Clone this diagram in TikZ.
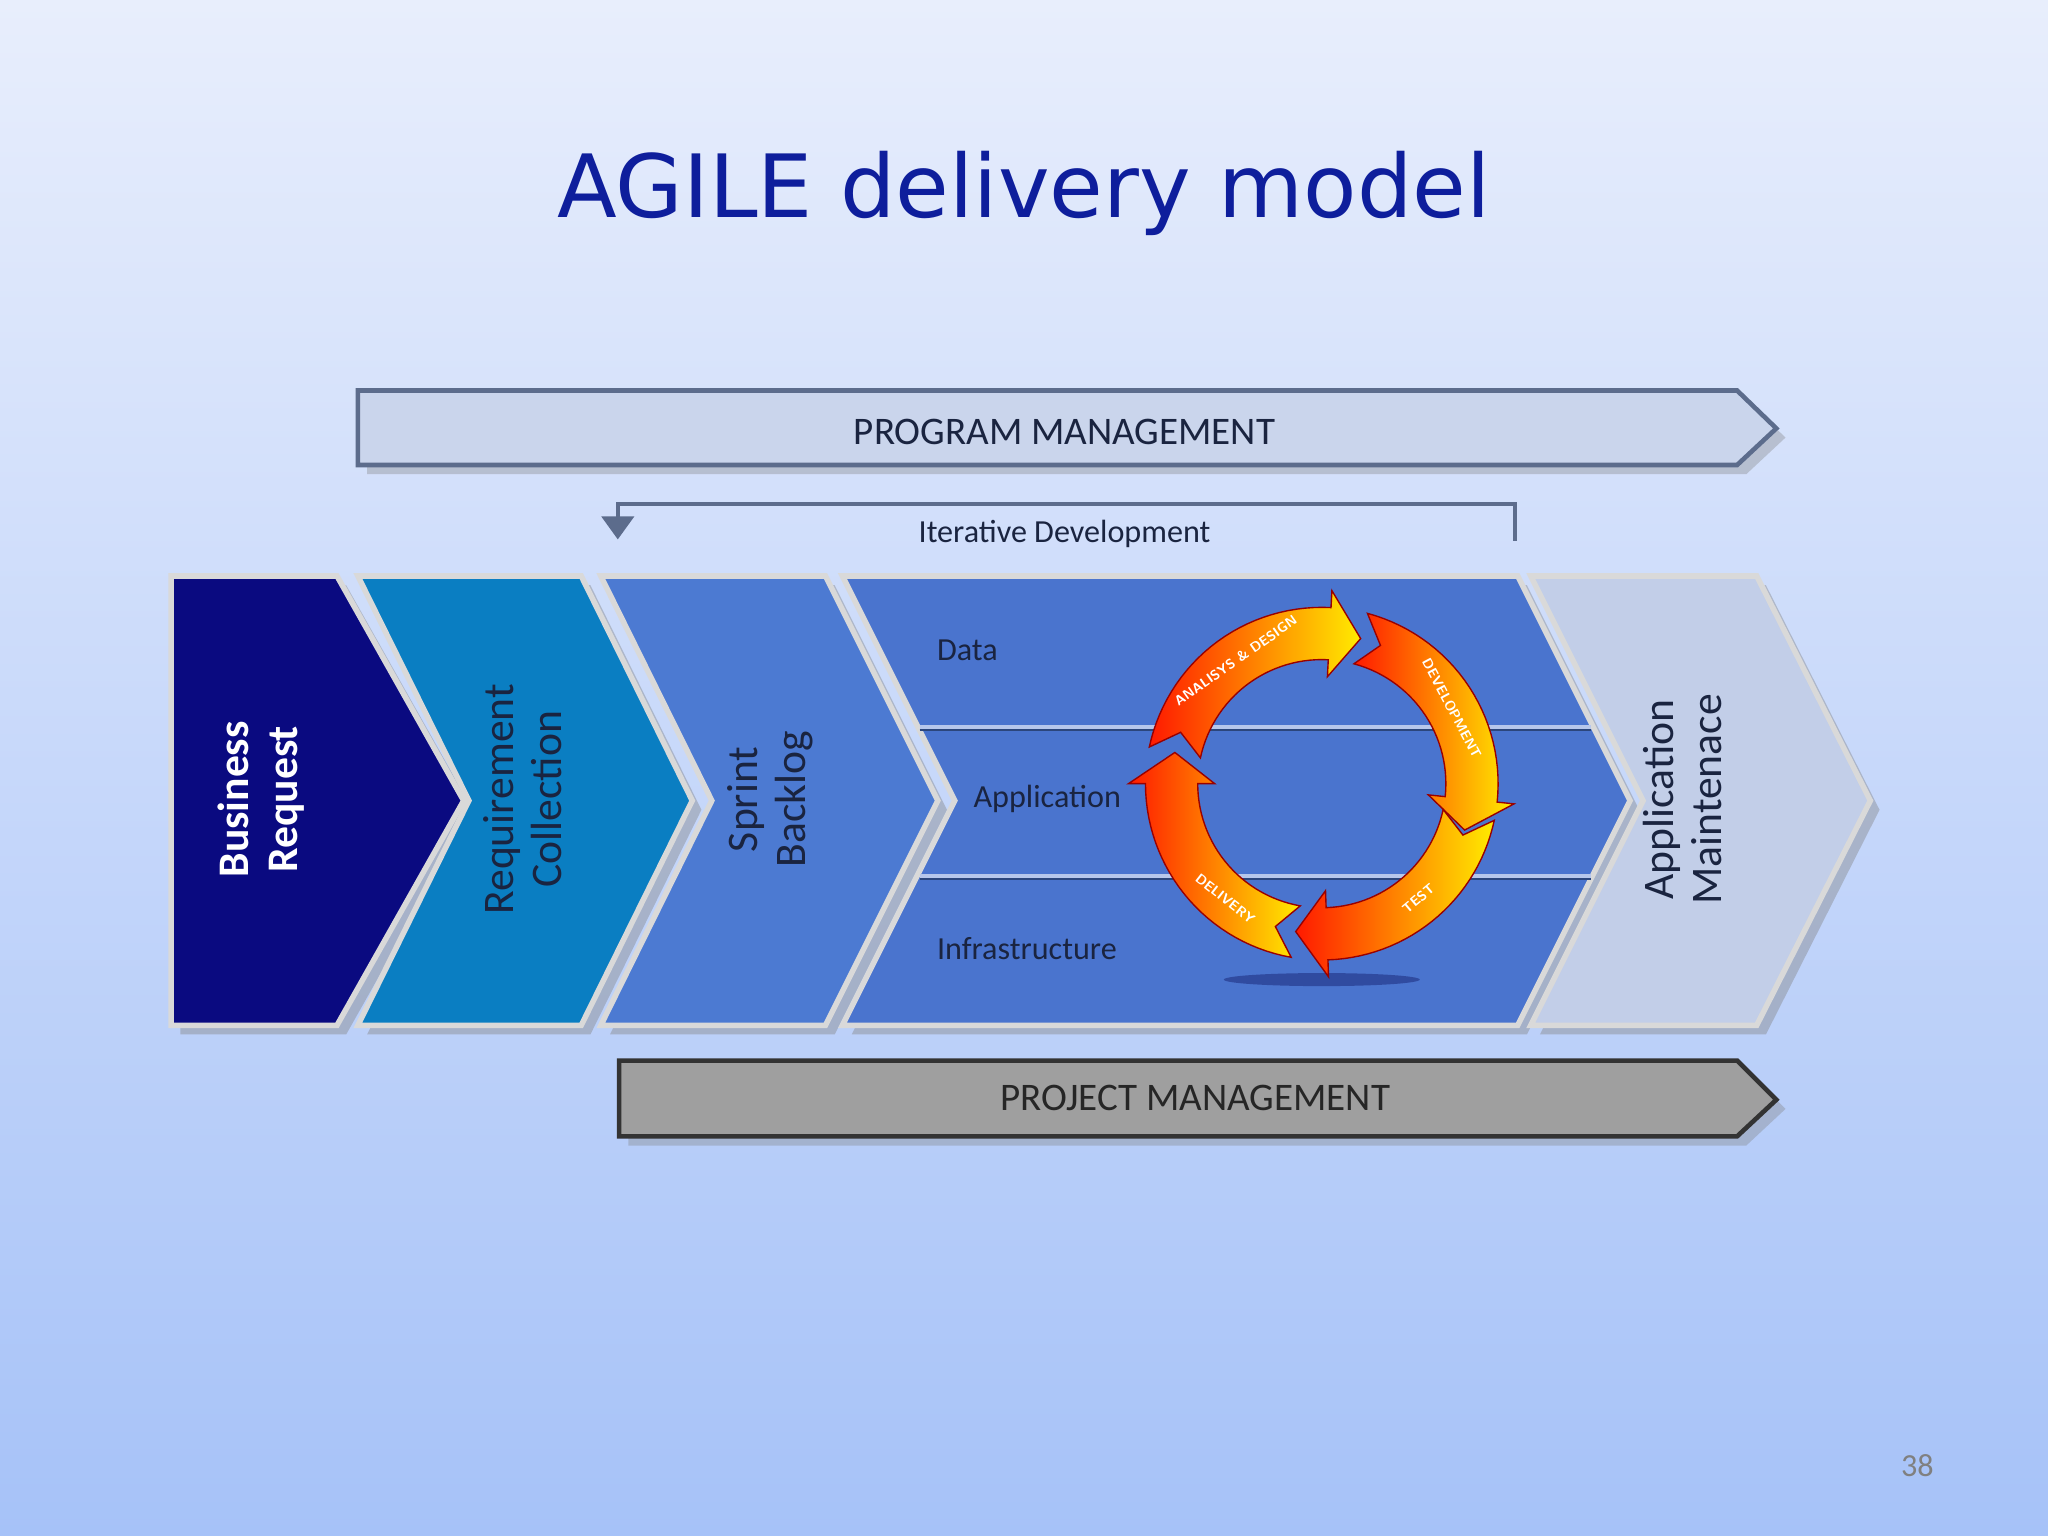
\documentclass[tikz,border=0pt]{standalone}
\usepackage{fontspec}
\setmainfont{Carlito}
\newfontfamily\titlefont{DejaVu Sans}
\usetikzlibrary{shadows,arrows.meta}
\definecolor{bgtop}{HTML}{E8EEFC}
\definecolor{bgbot}{HTML}{A6C2F8}
\definecolor{titleblue}{HTML}{0E1E9C}
\definecolor{pmfill}{HTML}{CAD5EC}
\definecolor{pmline}{HTML}{5C6C8C}
\definecolor{navy}{HTML}{0A0A80}
\definecolor{teal}{HTML}{0A7EC2}
\definecolor{sprint}{HTML}{4C7AD2}
\definecolor{dev}{HTML}{4A74CE}
\definecolor{maint}{HTML}{C2CEE8}
\definecolor{txtdark}{HTML}{1A2440}
\tikzset{
  chev/.style={draw=white!70!gray, line width=1.2pt, drop shadow={shadow xshift=2pt,shadow yshift=-2pt,opacity=0.4}},
  bar/.style={line width=1pt, drop shadow={shadow xshift=2pt,shadow yshift=-2pt,opacity=0.35}},
  vlabel/.style={rotate=90, align=center, font=\fontsize{9.5}{10.5}\selectfont},
  seg/.style={draw=red!60!black, line width=0.3pt, left color=red!80!orange, right color=yellow!85!orange},
  ringtxt/.style={text=white, inner sep=0pt, font=\fontsize{3}{3.5}\selectfont\sffamily\bfseries}
}
\newcommand{\ringseg}[2]{%
  \path[seg] plot[domain=#1:#2-12, samples=30] ({135*cos(\x)},{135*sin(\x)})
    -- ({#2-12}:148) -- (#2:115) -- ({#2-12}:82)
    -- plot[domain=#2-12:#1, samples=30] ({95*cos(\x)},{95*sin(\x)})
    -- ({#1+8}:115) -- cycle;}
\begin{document}
\begin{tikzpicture}[x=0.01cm,y=-0.01cm]
\shade[top color=bgtop,bottom color=bgbot] (0,0) rectangle (1568,1176);
\useasboundingbox (0,0) rectangle (1568,1176);
\node[text=titleblue, font=\titlefont\fontsize{19}{22}\selectfont] (title) at (784,148) {AGILE delivery model};
% program management
\path[bar, fill=pmfill, draw=pmline] (274,299) -- (1330,299) -- (1360,328) -- (1330,356) -- (274,356) -- cycle;
\node[text=txtdark, font=\fontsize{8.5}{10}\selectfont] (pm) at (815,331) {PROGRAM MANAGEMENT};
% iterative development
\coordinate (itA) at (1160,414);
\coordinate (itB) at (473,413);
\draw[pmline, line width=0.8pt, -{Triangle[length=5pt,width=7pt]}] (itA) -- (1160,386) -- (473,386) -- (itB);
\node[text=txtdark, font=\fontsize{7}{8}\selectfont] (itd) at (815,409) {Iterative Development};
% chevrons
\path[chev, fill=navy] (131,441) -- (258,441) -- (355,613) -- (258,785) -- (131,785) -- cycle;
\path[chev, fill=teal] (274,441) -- (445,441) -- (530,613) -- (445,785) -- (274,785) -- (359,613) -- cycle;
\path[chev, fill=sprint] (460,441) -- (632,441) -- (718,613) -- (632,785) -- (460,785) -- (545,613) -- cycle;
\path[chev, fill=dev] (645,441) -- (1162,441) -- (1248,613) -- (1162,785) -- (645,785) -- (731,613) -- cycle;
\draw[white!60!dev, line width=1pt] (704,557) -- (1218,557);
\draw[white!60!dev, line width=1pt] (704,671) -- (1218,671);
\draw[dev!60!black, line width=0.6pt] (704,559) -- (1218,559) (704,673) -- (1218,673);
\path[chev, fill=maint] (1172,441) -- (1345,441) -- (1432,613) -- (1345,785) -- (1172,785) -- (1258,613) -- cycle;
\node[vlabel, text=white, font=\fontsize{9.5}{10.5}\selectfont\bfseries] (br) at (200,612) {Business\\Request};
\node[vlabel, text=txtdark] (rc) at (400,612) {Requirement\\Collection};
\node[vlabel, text=txtdark] (sb) at (590,612) {Sprint\\Backlog};
\node[vlabel, text=txtdark] (am) at (1288,612) {Application\\Maintenace};
\node[text=txtdark, font=\fontsize{7}{8}\selectfont, anchor=west] (data) at (705,498) {Data};
\node[text=txtdark, font=\fontsize{7}{8}\selectfont, anchor=west] (app) at (733,612) {Application};
\node[text=txtdark, font=\fontsize{7}{8}\selectfont, anchor=west] (infra) at (705,726) {Infrastructure};
% cycle
\fill[black!70!blue, opacity=0.35] (1012,750) ellipse (75 and 5);
\begin{scope}[shift={(1012,600)}]
\ringseg{-168}{-75}
\ringseg{-75}{18}
\ringseg{12}{100}
\ringseg{100}{192}
\node[ringtxt, rotate=35] (t1) at (-125:115) {ANALISYS \& DESIGN};
\node[ringtxt, rotate=-62] (t2) at (-30:115) {DEVELOPMENT};
\node[ringtxt, rotate=40] (t3) at (50:115) {TEST};
\node[ringtxt, rotate=-38] (t4) at (130:115) {DELIVERY};
\end{scope}
% project management
\path[bar, fill=gray!75, draw=gray!40!black] (474,812) -- (1330,812) -- (1360,842) -- (1330,870) -- (474,870) -- cycle;
\node[text=black!85, font=\fontsize{8.5}{10}\selectfont] (prm) at (915,841) {PROJECT MANAGEMENT};
\node[text=gray, font=\fontsize{7}{8}\selectfont] (pg) at (1468,1122) {38};
\end{tikzpicture}
\end{document}
